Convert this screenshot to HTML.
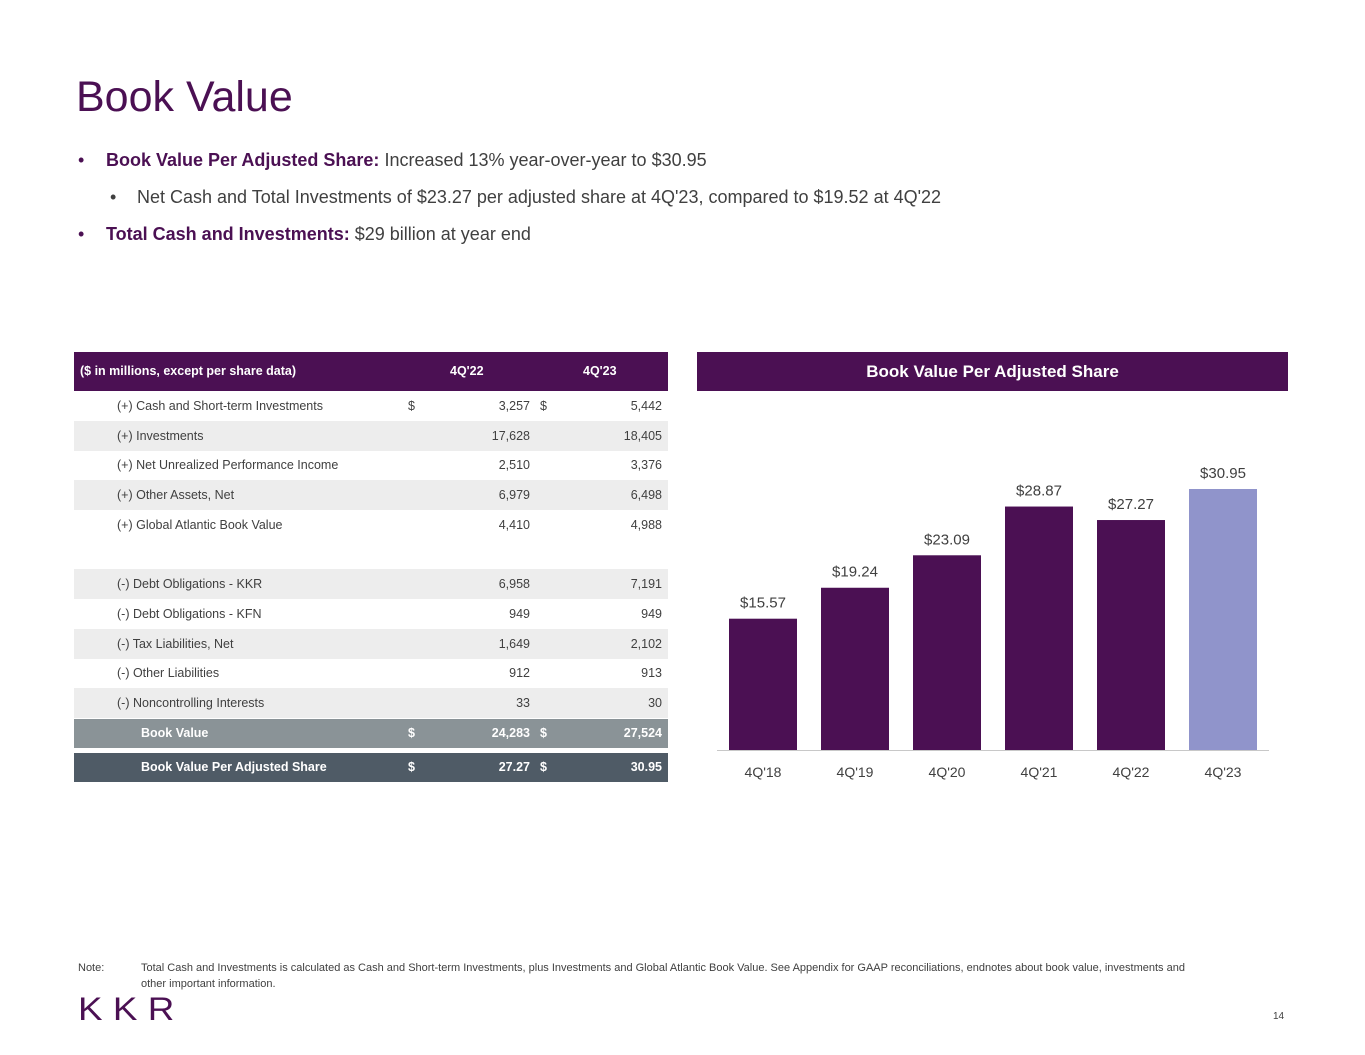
<!DOCTYPE html>
<html><head><meta charset="utf-8">
<style>
body{margin:0;width:1365px;height:1055px;background:#fff;position:relative;overflow:hidden;font-family:"Liberation Sans",sans-serif;color:#404040}
.a{position:absolute;white-space:nowrap}
.row{position:absolute;left:74px;width:594px;height:30px;font-size:12.5px;line-height:30px;color:#404040}
.row span{position:absolute}
.g{background:#ededed}
</style></head><body>
<div class="a" style="left:76px;top:73px;font-size:43px;color:#4b1053">Book Value</div>
<div class="a" style="left:78px;top:150px;font-size:18px;color:#4b1053">•<span style="position:absolute;left:28px"><b>Book Value Per Adjusted Share:</b> <span style="color:#404040">Increased 13% year-over-year to $30.95</span></span></div>
<div class="a" style="left:110px;top:187px;font-size:18px;color:#404040">•<span style="position:absolute;left:27px">Net Cash and Total Investments of $23.27 per adjusted share at 4Q'23, compared to $19.52 at 4Q'22</span></div>
<div class="a" style="left:78px;top:224px;font-size:18px;color:#4b1053">•<span style="position:absolute;left:28px"><b>Total Cash and Investments:</b> <span style="color:#404040">$29 billion at year end</span></span></div>

<div class="a" style="left:74px;top:352px;width:594px;height:39px;background:#4b1053;color:#fff;font-weight:bold;font-size:12.5px;line-height:39px">
<span class="a" style="left:6px">($ in millions, except per share data)</span>
<span class="a" style="left:376px">4Q'22</span><span class="a" style="left:509px">4Q'23</span></div>
<div id="tbl"></div>

<div class="a" style="left:697px;top:352px;width:591px;height:39px;background:#4b1053;color:#fff;font-weight:bold;font-size:17px;line-height:39px;text-align:center">Book Value Per Adjusted Share</div>
<svg id="chart" class="a" style="left:0;top:0" width="1365" height="1055"></svg>

<div class="a" style="left:78px;top:960px;font-size:11px;color:#404040;line-height:16px">Note:</div>
<div class="a" style="left:141px;top:960px;font-size:11px;color:#404040;line-height:16px;white-space:normal;width:1060px">Total Cash and Investments is calculated as Cash and Short-term Investments, plus Investments and Global Atlantic Book Value. See Appendix for GAAP reconciliations, endnotes about book value, investments and other important information.</div>
<div class="a" style="left:78px;top:993px;font-size:32px;color:#4b1053;letter-spacing:9px;line-height:32px;transform:scaleX(1.15);transform-origin:left">KKR</div>
<div class="a" style="left:1273px;top:1011px;font-size:10px;color:#404040">14</div>

<script>
const rowLabels=["(+)  Cash and Short-term Investments","(+)  Investments","(+)  Net Unrealized Performance Income","(+)  Other Assets, Net","(+)  Global Atlantic Book Value","","(-)  Debt Obligations - KKR","(-)  Debt Obligations - KFN","(-)  Tax Liabilities, Net","(-)  Other Liabilities","(-)  Noncontrolling Interests"];
const col22=["3,257","17,628","2,510","6,979","4,410","","6,958","949","1,649","912","33"];
const col23=["5,442","18,405","3,376","6,498","4,988","","7,191","949","2,102","913","30"];
const greyRows=[1,3,6,8,10];
const tbl=document.getElementById('tbl');
rowLabels.forEach((l,i)=>{
  const r=document.createElement('div');
  r.className='row'+(greyRows.includes(i)?' g':'');
  r.style.top=(391+i*29.7)+'px';
  
  
  let h=`<span style="left:43px">${l}</span><span style="right:138px">${col22[i]}</span><span style="right:6px">${col23[i]}</span>`;
  if(i==0)h+=`<span style="left:334px">$</span><span style="left:466px">$</span>`;
  r.innerHTML=h;tbl.appendChild(r);
});
function tot(top,bg,l,a,b,name){
  const r=document.createElement('div');
  r.className='row';r.style.top=top+'px';r.style.background=bg;r.style.color='#fff';r.style.fontWeight='bold';r.style.height='29px';r.style.lineHeight='29px';
  
  
  r.innerHTML=`<span style="left:67px">${l}</span><span style="left:334px">$</span><span style="right:138px">${a}</span><span style="left:466px">$</span><span style="right:6px">${b}</span>`;
  tbl.appendChild(r);
}
tot(718.5,'#8a9397','Book Value','24,283','27,524','book-value-row');
tot(753,'#4f5b66','Book Value Per Adjusted Share','27.27','30.95','bvps-row');

const cats=["4Q'18","4Q'19","4Q'20","4Q'21","4Q'22","4Q'23"];
const vals=[15.57,19.24,23.09,28.87,27.27,30.95];
const labels=["$15.57","$19.24","$23.09","$28.87","$27.27","$30.95"];
const ns='http://www.w3.org/2000/svg',svg=document.getElementById('chart');
const base=750,k=261/30.95;
const x=i=>729+i*92, y=v=>base-v*k;
function el(t,a){const e=document.createElementNS(ns,t);for(const q in a)e.setAttribute(q,a[q]);svg.appendChild(e);return e;}
vals.forEach((v,i)=>{
  const b=el('rect',{x:x(i),y:y(v),width:68,height:v*k,fill:i==5?'#9094cb':'#4b1053'});
  
  
  const t=el('text',{x:x(i)+34,y:y(v)-11,'text-anchor':'middle','font-size':'15','fill':'#404040','font-family':'Liberation Sans, sans-serif'});t.textContent=labels[i];
  
  
  const c=el('text',{x:x(i)+34,y:777,'text-anchor':'middle','font-size':'14','fill':'#404040','font-family':'Liberation Sans, sans-serif'});c.textContent=cats[i];
  
  
});
const ax=el('line',{x1:717,x2:1269,y1:750.5,y2:750.5,stroke:'#c8c8c8','stroke-width':1});


</script>
</body></html>
